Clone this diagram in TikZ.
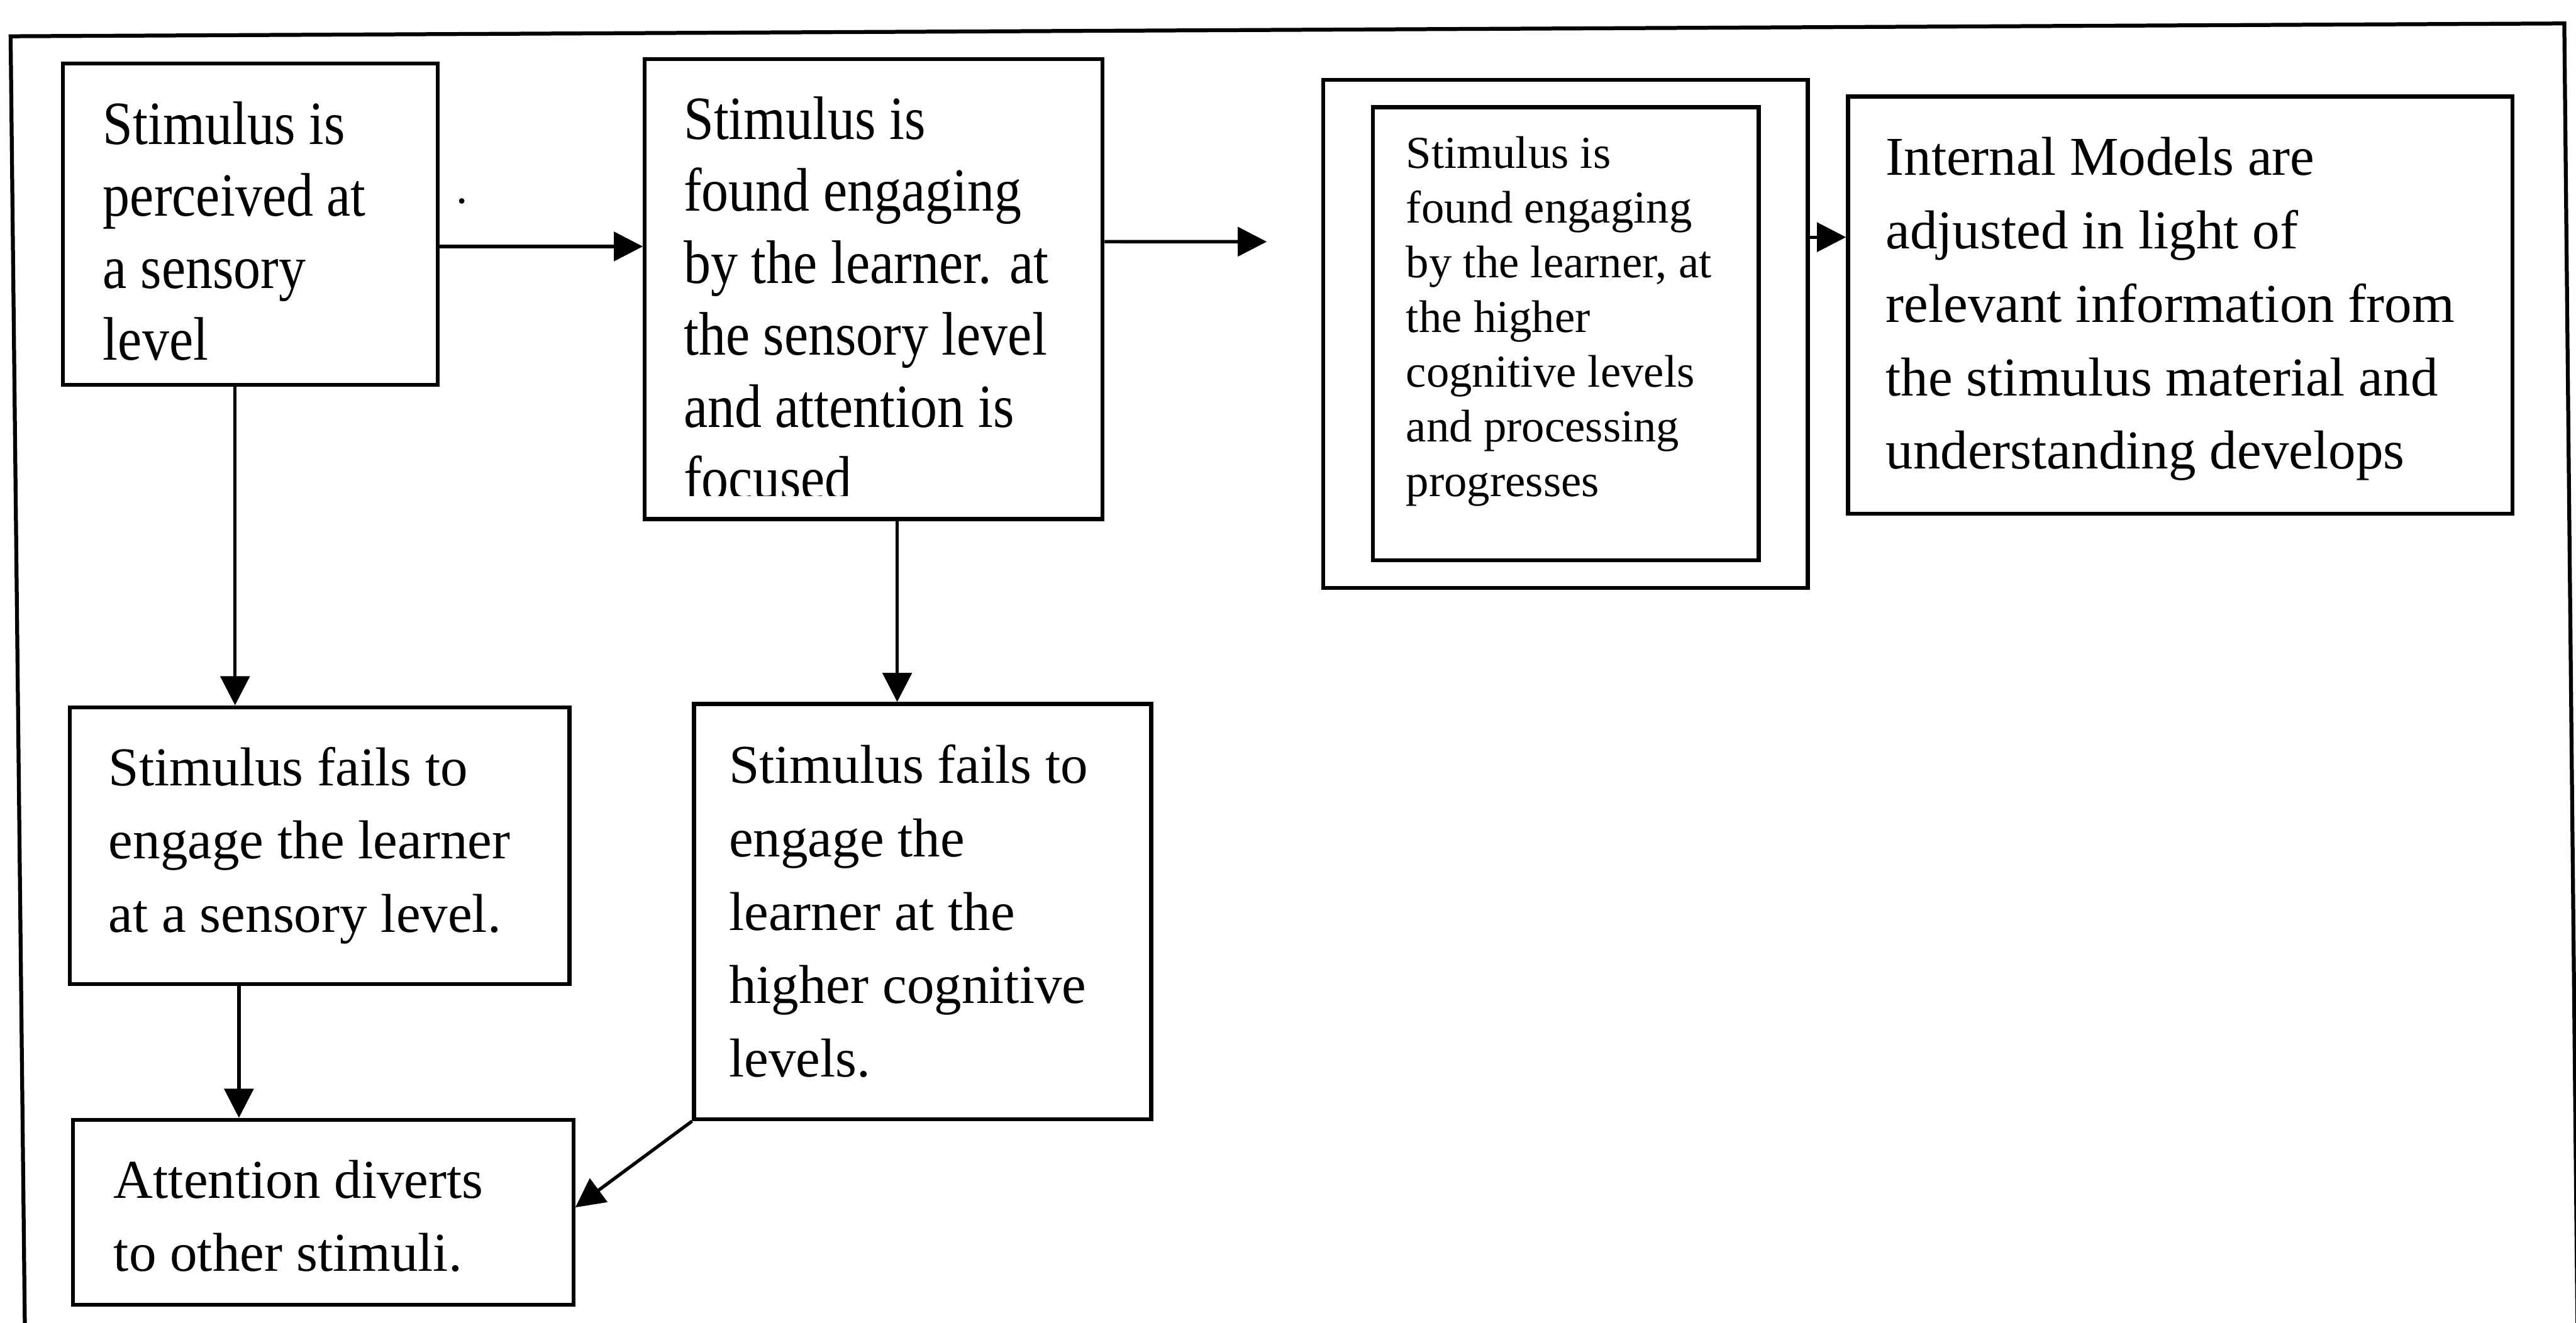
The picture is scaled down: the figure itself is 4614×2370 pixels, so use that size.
\documentclass[tikz,border=0pt]{standalone}
\usepackage{fontspec}
\setmainfont{Liberation Serif}
\newfontfamily\condserif[FakeStretch=0.88]{Liberation Serif}
\usetikzlibrary{arrows.meta,fit,calc}

% left-aligned multi-line text whose baseline is that of its first line
\newcommand{\mltext}[1]{\begin{tabular}[t]{@{}l@{}}#1\end{tabular}}

\tikzset{
  box/.style={draw, line width=2pt, inner sep=0pt, rectangle},
  arr/.style={line width=1.7pt, -{Triangle[length=0.52cm,width=0.52cm]}},
  bigtxt/.style={inner sep=0pt, anchor=base west,
    font=\condserif\fontsize{31.3pt}{36.7pt}\selectfont},
  midtxt/.style={inner sep=0pt, anchor=base west,
    font=\fontsize{27.9pt}{37.4pt}\selectfont},
  smalltxt/.style={inner sep=0pt, anchor=base west,
    font=\fontsize{23.3pt}{27.9pt}\selectfont},
}

\begin{document}
\begin{tikzpicture}[x=0.01cm, y=-0.01cm]
\useasboundingbox (0,0) rectangle (4614,2370);
\clip (0,0) rectangle (4614,2370);

% outer frame (open at the bottom edge of the page)
\draw[line width=2pt] (45,2420) -- (19,65) -- (4593,42) -- (4617,2420);

% boxes
\node[box, fit={(113,114) (784,689)}] (b1) {};
\node[box, fit={(1155,106) (1975,930)}] (b2) {};
\node[box, fit={(2370,143) (3238,1053)}] (b3) {};
\node[box, fit={(2459,192) (3150,1004)}] (b3in) {};
\node[box, fit={(3310,173) (4500,920)}] (b4) {};
\node[box, fit={(125,1267) (1020,1763)}] (b5) {};
\node[box, fit={(1243,1261) (2062,2005)}] (b6) {};
\node[box, fit={(131,2006) (1027,2337)}] (b7) {};

% box texts
\node[bigtxt] (t1) at (184,258) {\mltext{Stimulus is\\perceived at\\a sensory\\level}};
\begin{scope}
  \clip (1160,110) rectangle (1970,888);
  \node[bigtxt] (t2) at (1224,249) {\mltext{Stimulus is\\found engaging\\by the learner. at\\the sensory level\\and attention is\\focused}};
\end{scope}
\node[smalltxt] (t3) at (2518,301) {\mltext{Stimulus is\\found engaging\\by the learner, at\\the higher\\cognitive levels\\and processing\\progresses}};
\node[midtxt] (t4) at (3377,314) {\mltext{Internal Models are\\adjusted in light of\\relevant information from\\the stimulus material and\\understanding develops}};
\node[midtxt] (t5) at (194,1407) {\mltext{Stimulus fails to\\engage the learner\\at a sensory level.}};
\node[midtxt] (t6) at (1305,1403) {\mltext{Stimulus fails to\\engage the\\learner at the\\higher cognitive\\levels.}};
\node[midtxt] (t7) at (203,2146) {\mltext{Attention diverts\\to other stimuli.}};

% stray dot
\fill (827,360) circle[radius=5];

% connectors
\coordinate (c23) at (2269,433);
\draw[arr] ([yshift=-0.40cm]b1.east) -- ([yshift=-0.40cm]b1.east -| b2.west);
\draw[arr] ([yshift=0.85cm]b2.east) -- (c23);
\draw[arr] ([yshift=1.73cm]b3.east) -- ([yshift=1.73cm]b3.east -| b4.west);
\draw[arr] ([xshift=-0.275cm]b1.south) -- ([xshift=-0.275cm]b1.south |- b5.north);
\draw[arr] ([xshift=-1.445cm]b5.south) -- ([xshift=-1.445cm]b5.south |- b7.north);
\draw[arr] ([xshift=0.42cm]b2.south) -- ([xshift=0.42cm]b2.south |- b6.north);
\draw[arr] (b6.south west) -- ([yshift=0.085cm]b7.east);
\end{tikzpicture}
\end{document}
